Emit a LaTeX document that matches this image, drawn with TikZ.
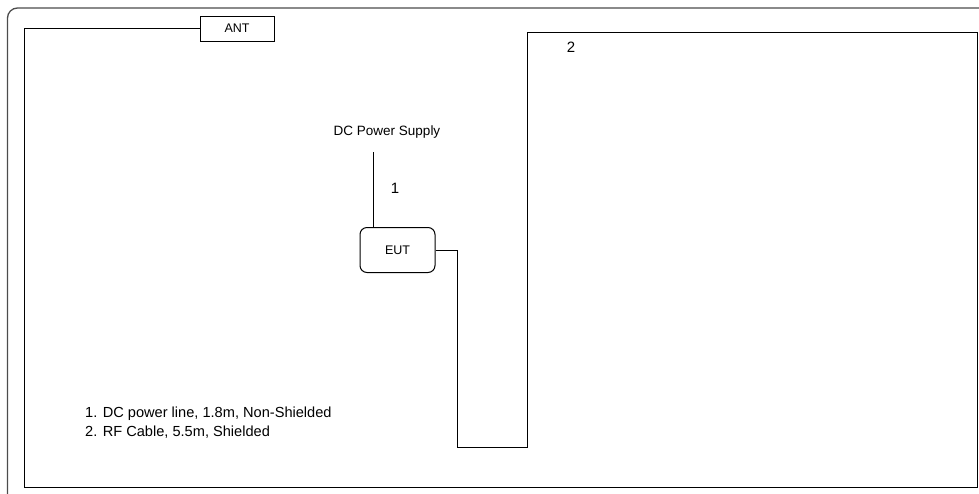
\documentclass[tikz,border=0pt]{standalone}
\usepackage{fontspec}
\setmainfont{Liberation Sans}
\usepackage{tikz}
\usetikzlibrary{positioning,calc}
\usepackage{xcolor}

\tikzset{
  cable/.style={black,line width=1pt},
  unitbox/.style={draw,black,line width=1pt,rounded corners=7pt,minimum width=75pt,minimum height=45pt,font=\fontsize{12.5}{14}\selectfont},
  antbox/.style={draw,black,line width=1pt,minimum width=74pt,minimum height=25pt,font=\fontsize{12.5}{14}\selectfont},
  smalltxt/.style={font=\fontsize{13.5}{15}\selectfont},
  numtxt/.style={font=\fontsize{15}{17}\selectfont},
  legendtxt/.style={font=\fontsize{14.6}{17}\selectfont,anchor=base west,inner sep=0pt}
}

\begin{document}
\begin{tikzpicture}[x=1pt,y=-1pt]
  \useasboundingbox (0,0) rectangle (979,493);
  % outer frame
  \draw[gray!60!black,line width=1.3pt,rounded corners=10pt] (7.5,8) rectangle (1000,520);
  % units
  \node[antbox] (ant) at (237,28.5) {ANT};
  \node[unitbox] (eut) at (397.5,250) {EUT};
  \node[smalltxt] (dcps) at (387,132) {DC Power Supply};
  \coordinate (dctop) at (373,152);
  % cables
  \draw[cable] (dctop) -- (dctop |- eut.north);
  \draw[cable] (eut.east) -| (457,447) -- (527,447) -- (527,32.5) -- (977,32.5) -- (977,487) -- (24.5,487) |- (ant.west);
  \node[numtxt] (lbl1) at (395,188) {1};
  \node[numtxt] (lbl2) at (571,47) {2};
  % legend
  \node[legendtxt] (leg1) at (85,417) {1. DC power line, 1.8m, Non-Shielded};
  \node[legendtxt] (leg2) at (85,436) {2. RF Cable, 5.5m, Shielded};
\end{tikzpicture}
\end{document}
